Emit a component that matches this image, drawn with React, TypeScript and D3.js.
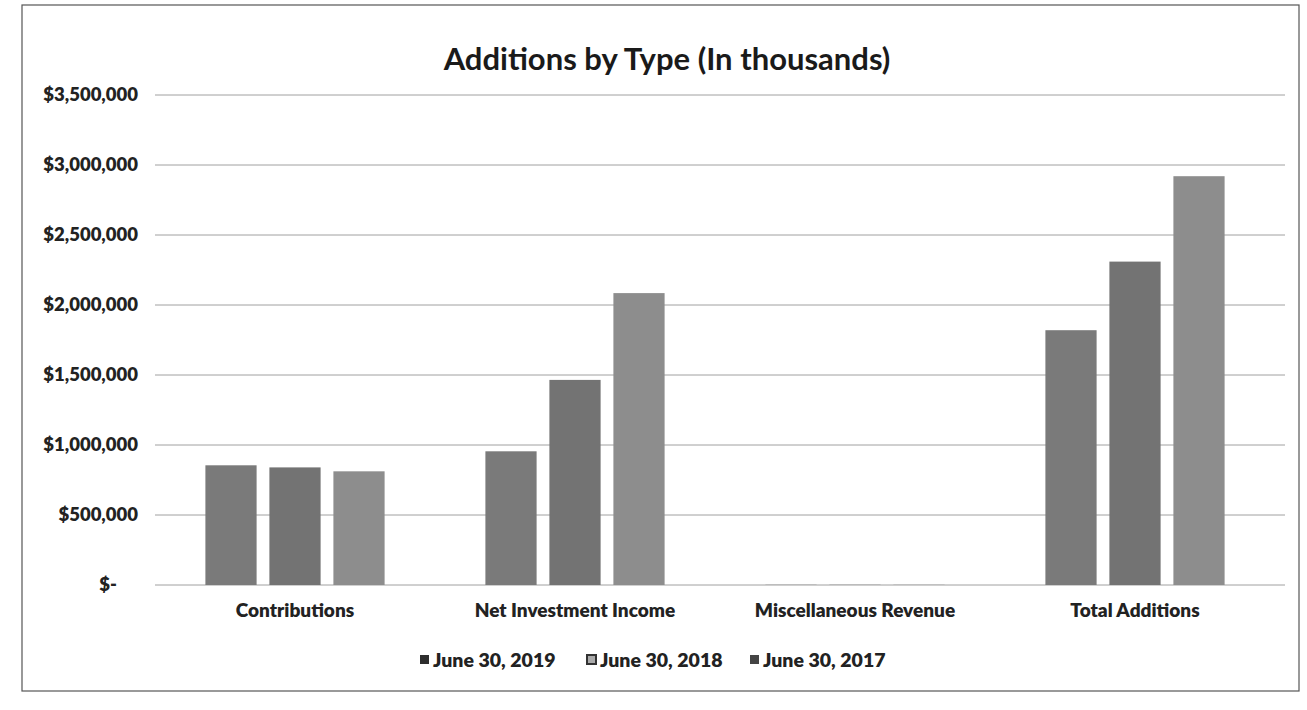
import React from "react";
import * as d3 from "d3";

const categories = ["Contributions", "Net Investment Income", "Miscellaneous Revenue", "Total Additions"];
const seriesNames = ["June 30, 2019", "June 30, 2018", "June 30, 2017"];
const values2019 = [855000, 955000, 1500, 1820000];
const values2018 = [840000, 1465000, 1500, 2310000];
const values2017 = [812000, 2085000, 1500, 2920000];
const yTicks = [0, 500000, 1000000, 1500000, 2000000, 2500000, 3000000, 3500000];
const seriesColors = ["#7a7a7a", "#737373", "#8d8d8d"];

const W = 1307;
const H = 710;
const FONT = "Lato, 'Open Sans', sans-serif";

export default function App() {
  const series = [values2019, values2018, values2017];
  const left = 155, right = 1275, top = 95, bottom = 585;
  const y = d3.scaleLinear().domain([0, 3500000]).range([bottom, top]);
  const x0 = d3.scaleBand<string>().domain(categories).range([left, right]).paddingInner(0.36).paddingOuter(0.18);
  const x1 = d3.scaleBand<string>().domain(seriesNames).range([0, x0.bandwidth()]).paddingInner(0.2).paddingOuter(0);
  const fmt = (v: number) => (v === 0 ? "$-" : "$" + d3.format(",")(v));

  const legendX = [420, 587, 750];

  return (
    <svg width={W} height={H} style={{ position: "absolute", left: 0, top: 0, background: "#fff" }} fontFamily={FONT}>
      <rect x={0} y={0} width={W} height={H} fill="#fff" />
      <rect x={22} y={5} width={1277} height={686} fill="none" stroke="#555" strokeWidth={1.2} />
      <text x={667} y={70} textAnchor="middle" fontSize={31} fontWeight={700} fill="#1a1a1a">
        Additions by Type (In thousands)
      </text>
      {yTicks.map((t) => (
        <g key={t}>
          <line x1={left} x2={right + 10} y1={y(t)} y2={y(t)} stroke="#a0a0a0" strokeWidth={1} />
          <text
            x={t === 0 ? 117 : 138}
            y={y(t)}
            dy="0.35em"
            textAnchor="end"
            fontSize={18.5}
            fontWeight={800}
            fill="#222"
          >
            {fmt(t)}
          </text>
        </g>
      ))}
      {categories.map((c, ci) => (
        <g key={c} transform={`translate(${x0(c)},0)`}>
          {seriesNames.map((s, si) => {
            const v = series[si][ci];
            return (
              <rect
                key={s}
                x={x1(s)}
                y={y(v)}
                width={x1.bandwidth()}
                height={y(0) - y(v)}
                fill={seriesColors[si]}
              />
            );
          })}
          <text
            x={x0.bandwidth() / 2}
            y={bottom + 32}
            textAnchor="middle"
            fontSize={19}
            fontWeight={800}
            fill="#222"
          >
            {c}
          </text>
        </g>
      ))}
      {seriesNames.map((s, i) => (
        <g key={s} transform={`translate(${legendX[i]},660)`}>
          {i === 1 ? (
            <rect x={0} y={-5} width={9} height={9} fill="#aaa" stroke="#333" strokeWidth={2} />
          ) : (
            <rect x={0} y={-5} width={9} height={9} fill={i === 0 ? "#2e2e2e" : "#444"} />
          )}
          <text x={13} y={0} dy="0.35em" fontSize={19.5} fontWeight={800} fill="#222">
            {s}
          </text>
        </g>
      ))}
    </svg>
  );
}
